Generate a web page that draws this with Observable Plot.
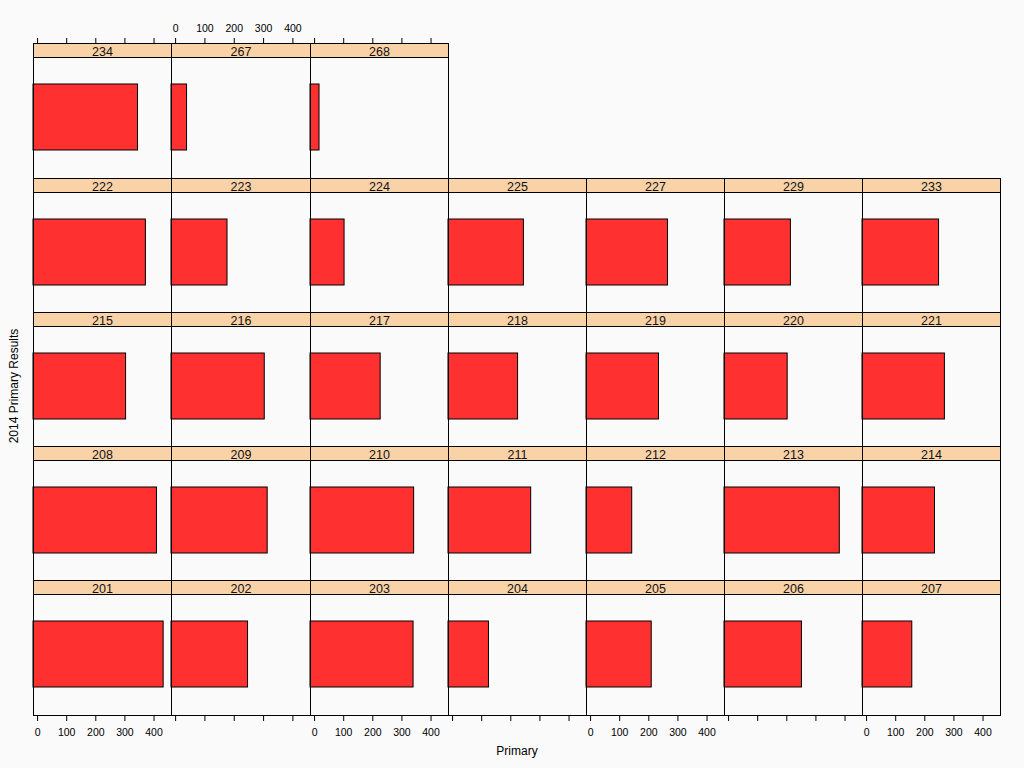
<!DOCTYPE html>
<html><head><meta charset="utf-8">
<script src="https://cdn.jsdelivr.net/npm/d3@7"></script>
<script src="https://cdn.jsdelivr.net/npm/@observablehq/plot@0.6"></script>
<style>
html,body{margin:0;padding:0;background:#fafafa;}
#chart{position:relative;width:1024px;height:768px;background:#fafafa;font-family:"Liberation Sans",Arial,sans-serif;overflow:hidden;color:#000}
.strip{position:absolute;box-sizing:border-box;border:1px solid #000;background:#f9d2a8;text-align:center;font-size:12.5px;line-height:16px;height:15px;overflow:hidden;color:#111}
.panel{position:absolute}
.panel svg{overflow:visible;background:transparent}
.lab{position:absolute;font-size:12px;text-align:center;white-space:nowrap;color:#000}
</style></head><body><div id="chart"></div>
<script>
// Precinct (panel) names, in lattice order: bottom-left to right, then upward
const precincts = ["201","202","203","204","205","206","207",
                   "208","209","210","211","212","213","214",
                   "215","216","217","218","219","220","221",
                   "222","223","224","225","227","229","233",
                   "234","267","268"];
// 2014 primary votes per precinct
const votes = [433,247,340,125,210,252,157,
               410,314,342,270,143,382,235,
               304,304,227,225,235,203,269,
               372,177,103,245,266,214,249,
               345,39,17];
const xDomain = [-14, 460];
const xTicks = [0,100,200,300,400];
const category = ["Primary"];

const nCols = 7, nRows = 5;
const x0 = 33.3, y0 = 43.3, colW = 138.17, rowH = 134.25, stripH = 14;
const chart = document.getElementById("chart");
const colLeft = c => Math.round(x0 + c * colW);
const rowTop = r => Math.round(y0 + r * rowH);

precincts.forEach((p, i) => {
  const col = i % nCols;
  const rb = Math.floor(i / nCols);
  const ri = nRows - 1 - rb;
  const isBottom = rb === 0;
  const isTop = ri === 0;
  const left = colLeft(col);
  const panelW = colLeft(col + 1) - left;
  const stripTop = rowTop(ri);
  const panelTop = stripTop + stripH;
  const panelH = rowTop(ri + 1) - panelTop;

  const mTop = isTop ? stripH + 28 : 1;
  const mBottom = isBottom ? 32 : 1;
  const marks = [
    Plot.barX([{precinct: p, votes: votes[i]}], {
      x1: () => xDomain[0], x2: "votes", y: () => category[0],
      fill: "#ff3030", stroke: "#000", strokeWidth: 1
    }),
    Plot.frame({stroke: "#000", strokeWidth: 1})
  ];
  if (isBottom) {
    marks.push(Plot.axisX({anchor: "bottom", ticks: xTicks, tickSize: 6, tickPadding: 7, label: null,
      fontSize: 10.5, tickFormat: col % 2 === 0 ? (d => d) : (() => ""), stroke: "#000", fill: "#000"}));
  }
  if (isTop) {
    marks.push(Plot.axisX({anchor: "top", ticks: xTicks, tickSize: 6, tickPadding: 6, dy: -stripH, label: null,
      fontSize: 10.5, tickFormat: col % 2 === 1 ? (d => d) : (() => ""), stroke: "#000", fill: "#000"}));
  }
  const plot = Plot.plot({
    width: panelW + 2,
    height: mTop + panelH + mBottom,
    marginLeft: 1, marginRight: 1, marginTop: mTop, marginBottom: mBottom,
    style: {background: "transparent", fontFamily: "Liberation Sans, Arial, sans-serif", overflow: "visible"},
    x: {domain: xDomain, axis: null},
    y: {type: "band", domain: category, padding: 0.29, axis: null},
    marks
  });
  const wrap = document.createElement("div");
  wrap.className = "panel";
  wrap.style.left = (left - 1) + "px";
  wrap.style.top = (panelTop - mTop) + "px";
  wrap.appendChild(plot);
  chart.appendChild(wrap);

  const s = document.createElement("div");
  s.className = "strip";
  s.style.left = left + "px";
  s.style.top = stripTop + "px";
  s.style.width = (panelW + 1) + "px";
  s.textContent = p;
  chart.appendChild(s);
});

const xl = document.createElement("div");
xl.className = "lab";
xl.style.left = "417px"; xl.style.top = "744px"; xl.style.width = "200px"; xl.style.lineHeight = "14px";
xl.textContent = "Primary";
chart.appendChild(xl);

const yl = document.createElement("div");
yl.className = "lab";
yl.style.left = (13.5 - 100) + "px"; yl.style.top = (386 - 8) + "px"; yl.style.width = "200px";
yl.style.height = "16px"; yl.style.lineHeight = "16px";
yl.style.transform = "rotate(-90deg)";
yl.textContent = "2014 Primary Results";
chart.appendChild(yl);
</script></body></html>
